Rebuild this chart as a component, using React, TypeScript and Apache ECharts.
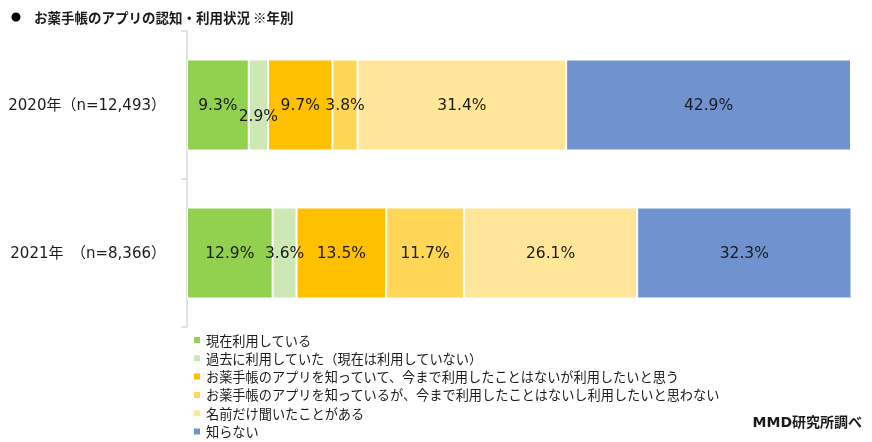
import React, { useEffect, useRef } from "react";
import * as echarts from "echarts";

const categories = ["2020年（n=12,493）", "2021年　（n=8,366）"];
const seriesNames = [
  "現在利用している",
  "過去に利用していた（現在は利用していない）",
  "お薬手帳のアプリを知っていて、今まで利用したことはないが利用したいと思う",
  "お薬手帳のアプリを知っているが、今まで利用したことはないし利用したいと思わない",
  "名前だけ聞いたことがある",
  "知らない",
];
const usingNow = [9.3, 12.9];
const usedBefore = [2.9, 3.6];
const wantToUse = [9.7, 13.5];
const dontWantToUse = [3.8, 11.7];
const heardName = [31.4, 26.1];
const dontKnow = [42.9, 32.3];
const seriesValues = [usingNow, usedBefore, wantToUse, dontWantToUse, heardName, dontKnow];
const colors = ["#92D050", "#CDE8B4", "#FFC000", "#FFD656", "#FFE699", "#7092CF"];

const FONT = "'Noto Sans CJK JP', 'Noto Sans', sans-serif";
const LFONT = "'DejaVu Sans', 'Noto Sans CJK JP', sans-serif";

export default function App() {
  const ref = useRef<HTMLDivElement>(null);
  useEffect(() => {
    if (!ref.current) return;
    const chart = echarts.init(ref.current, undefined, { renderer: "svg" });
    chart.setOption({
      animation: false,
      textStyle: { fontFamily: FONT },
      grid: { left: 187, right: 21, top: 31, bottom: 115, containLabel: false },
      xAxis: {
        type: "value",
        min: 0,
        max: 100,
        show: false,
      },
      yAxis: {
        type: "category",
        data: categories,
        inverse: true,
        axisLine: { show: true, lineStyle: { color: "#D9D9D9", width: 1.5 } },
        axisTick: { show: true, length: 6, lineStyle: { color: "#D9D9D9", width: 1.5 } },
        axisLabel: { fontSize: 15, color: "#1a1a1a", margin: 21, fontFamily: LFONT },
      },
      legend: {
        orient: "vertical",
        left: 192,
        top: 333,
        height: 109,
        itemWidth: 8,
        itemHeight: 8,
        itemGap: 4.3,
        icon: "rect",
        padding: 0,
        textStyle: { fontSize: 13.2, lineHeight: 14, color: "#1a1a1a", fontFamily: FONT },
        data: seriesNames,
      },
      series: seriesValues.map((vals, i) => ({
        name: seriesNames[i],
        type: "bar",
        stack: "total",
        barWidth: 91,
        itemStyle: { color: colors[i], borderColor: "#ffffff", borderWidth: 1 },
        label: {
          show: true,
          position: "inside",
          fontSize: 15.5,
          color: "#1a1a1a",
          fontFamily: LFONT,
          formatter: (p: any) => p.value.toFixed(1) + "%",
        },
        data: vals.map((v, j) =>
          i === 1 && j === 0
            ? { value: v, label: { offset: [0, 11] } }
            : { value: v }
        ),
      })),
      graphic: [
        { type: "circle", shape: { cx: 16, cy: 17, r: 4.5 }, style: { fill: "#000" } },
        {
          type: "text",
          x: 34,
          y: 17,
          style: {
            text: "お薬手帳のアプリの認知・利用状況 ※年別",
            font: `bold 13.5px ${FONT}`,
            fill: "#1a1a1a",
            verticalAlign: "middle",
          },
        },
        {
          type: "text",
          x: 862,
          y: 422,
          style: {
            text: "MMD研究所調べ",
            font: `bold 14px ${LFONT}`,
            fill: "#1a1a1a",
            align: "right",
            verticalAlign: "middle",
          },
        },
      ],
    });
    return () => chart.dispose();
  }, []);
  return <div ref={ref} style={{ width: 872, height: 442, position: "fixed", left: 0, top: 0 }} />;
}
